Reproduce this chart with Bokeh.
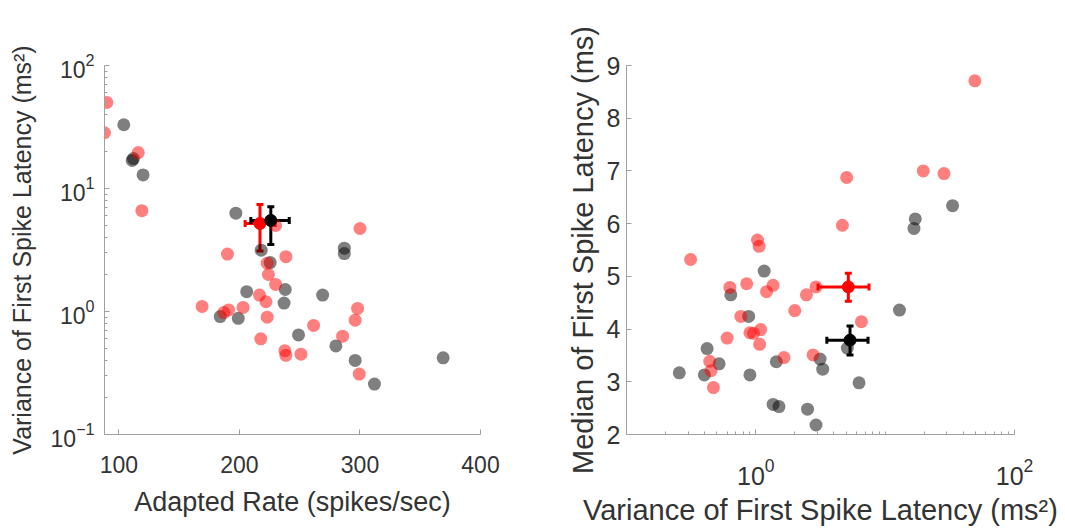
from bokeh.plotting import figure
from bokeh.layouts import row
from bokeh.models import (ColumnDataSource, Whisker, TeeHead, FixedTicker,
                          Range1d, LogTickFormatter)
from bokeh.embed import file_html
from bokeh.resources import INLINE

# ---------------- data: left panel (Adapted rate vs variance) ----------------
left_grey_x = [104, 111, 112, 120, 197, 218, 225.5, 206, 238, 237, 184, 199,
               269, 249, 280, 287, 287, 296, 312, 369]
left_grey_y = [33, 16.9, 17.5, 12.9, 6.3, 3.15, 2.5, 1.45, 1.51, 1.17, 0.91,
               0.88, 1.36, 0.645, 0.525, 3.27, 2.96, 0.40, 0.257, 0.42]

left_red_x = [90, 88, 116, 119, 300, 190, 238.5, 223, 224, 230, 216.6, 222,
              169, 191, 187, 203, 223, 298, 296, 261.5, 285.6, 217.7, 237.7,
              238.5, 251, 299.4, 230]
left_red_y = [50, 28.4, 19.6, 6.6, 4.73, 2.93, 2.79, 2.47, 2.0, 1.66, 1.36,
              1.2, 1.1, 1.03, 0.98, 1.08, 0.9, 1.06, 0.85, 0.77, 0.63, 0.6,
              0.48, 0.44, 0.45, 0.31, 5.0]

left_mean_red = dict(x=[217], y=[5.2], xl=[204.7], xu=[229.6], yl=[3.1], yu=[7.4])
left_mean_black = dict(x=[226], y=[5.5], xl=[209.4], xu=[241.3], yl=[3.5], yu=[7.1])

left_xticks = [100, 200, 300, 400]
left_yticks = [0.1, 1, 10, 100]

# ---------------- data: right panel (variance vs median latency) -------------
right_red_x = [49.4, 19.7, 28.5, 5.04, 4.67, 1.03, 1.06, 0.313, 0.63, 0.85,
               1.36, 1.21, 2.46, 2.92, 2.0, 0.766, 6.55, 1.09, 0.90, 0.96,
               0.60, 1.07, 1.65, 2.77, 0.44, 0.45, 0.47]
right_red_y = [8.71, 7.0, 6.95, 6.875, 5.97, 5.69, 5.57, 5.32, 4.79, 4.86,
               4.83, 4.71, 4.65, 4.8, 4.35, 4.24, 4.14, 3.99, 3.93, 3.92,
               3.83, 3.71, 3.46, 3.51, 3.39, 3.21, 2.89]

right_grey_x = [33.2, 17.1, 16.7, 12.9, 1.16, 0.64, 0.88, 0.42, 0.52, 0.256,
                0.40, 0.90, 1.44, 3.14, 3.29, 5.1, 6.28, 1.36, 1.51, 2.51, 2.92]
right_grey_y = [6.34, 6.09, 5.91, 4.36, 5.10, 4.65, 4.24, 3.63, 3.34, 3.17,
                3.13, 3.13, 3.38, 3.43, 3.24, 3.64, 2.98, 2.57, 2.53, 2.48, 2.18]

right_mean_red = dict(x=[5.19], y=[4.80], xl=[3.03], xu=[7.5], yl=[4.53], yu=[5.06])
right_mean_black = dict(x=[5.35], y=[3.79], xl=[3.54], xu=[7.37], yl=[3.51], yu=[4.06])

right_xticks = [1, 100]
right_yticks = [2, 3, 4, 5, 6, 7, 8, 9]

FONT = "Liberation Sans"
TXT = "#333333"
AX = "#a0a0a0"


def style(p, tick_size, xlabel_size, ylabel_size):
    p.grid.visible = False
    p.outline_line_color = None
    p.background_fill_color = "white"
    p.border_fill_color = "white"
    for ax, lsize in ((p.xaxis[0], xlabel_size), (p.yaxis[0], ylabel_size)):
        ax.axis_line_color = AX
        ax.major_tick_line_color = AX
        ax.minor_tick_line_color = AX
        ax.major_tick_in = 5
        ax.major_tick_out = 0
        ax.minor_tick_in = 3
        ax.minor_tick_out = 0
        ax.major_label_text_font = FONT
        ax.major_label_text_font_size = tick_size
        ax.major_label_text_color = TXT
        ax.axis_label_text_font = FONT
        ax.axis_label_text_font_size = lsize
        ax.axis_label_text_font_style = "normal"
        ax.axis_label_text_color = TXT


def add_mean(p, d, color):
    src = ColumnDataSource(d)
    p.add_layout(Whisker(source=src, base="x", lower="yl", upper="yu",
                         dimension="height", line_color=color, line_width=3,
                         upper_head=TeeHead(size=7, line_color=color, line_width=3),
                         lower_head=TeeHead(size=7, line_color=color, line_width=3)))
    p.add_layout(Whisker(source=src, base="y", lower="xl", upper="xu",
                         dimension="width", line_color=color, line_width=3,
                         upper_head=TeeHead(size=7, line_color=color, line_width=3),
                         lower_head=TeeHead(size=7, line_color=color, line_width=3)))
    p.scatter("x", "y", source=src, size=12, color=color)


# ---------------- left figure ----------------
p1 = figure(width=540, height=532, y_axis_type="log",
            x_range=Range1d(88, 400), y_range=Range1d(0.1, 100),
            output_backend="svg", toolbar_location=None,
            min_border_left=104, min_border_right=60,
            min_border_top=65, min_border_bottom=92)
style(p1, "23px", "27px", "25px")
p1.xaxis.ticker = FixedTicker(ticks=left_xticks, minor_ticks=[])
p1.yaxis.ticker = FixedTicker(
    ticks=left_yticks,
    minor_ticks=[m * t for t in left_yticks[:-1] for m in range(2, 10)])
p1.yaxis.formatter = LogTickFormatter()
p1.xaxis.axis_label = "Adapted Rate (spikes/sec)"
p1.yaxis.axis_label = "Variance of First Spike Latency (ms²)"
p1.xaxis.major_label_standoff = 21
p1.xaxis.axis_label_standoff = 11
p1.yaxis.major_label_standoff = 10
p1.yaxis.axis_label_standoff = 12

p1.scatter(left_grey_x, left_grey_y, size=13, color="black", alpha=0.5, line_color=None)
p1.scatter(left_red_x, left_red_y, size=13, color="red", alpha=0.5, line_color=None)
add_mean(p1, left_mean_red, "red")
add_mean(p1, left_mean_black, "black")

# ---------------- right figure ----------------
p2 = figure(width=525, height=532, x_axis_type="log",
            x_range=Range1d(0.1, 100), y_range=Range1d(2, 9),
            output_backend="svg", toolbar_location=None,
            min_border_left=86, min_border_right=51,
            min_border_top=47, min_border_bottom=98)
style(p2, "25px", "29px", "29px")
p2.xaxis.ticker = FixedTicker(
    ticks=right_xticks,
    minor_ticks=[m * t for t in [0.1, 1, 10] for m in range(2, 11)])
p2.xaxis.formatter = LogTickFormatter()
p2.yaxis.ticker = FixedTicker(ticks=right_yticks, minor_ticks=[])
p2.xaxis.axis_label = "Variance of First Spike Latency (ms²)"
p2.yaxis.axis_label = "Median of First Spike Latency (ms)"
p2.xaxis.major_label_standoff = 23
p2.xaxis.axis_label_standoff = 6
p2.yaxis.major_label_standoff = 6
p2.yaxis.axis_label_standoff = 5

p2.scatter(right_grey_x, right_grey_y, size=13, color="black", alpha=0.5, line_color=None)
p2.scatter(right_red_x, right_red_y, size=13, color="red", alpha=0.5, line_color=None)
add_mean(p2, right_mean_red, "red")
add_mean(p2, right_mean_black, "black")

layout = row(p1, p2)
open("out.html", "w").write(file_html(layout, INLINE))
